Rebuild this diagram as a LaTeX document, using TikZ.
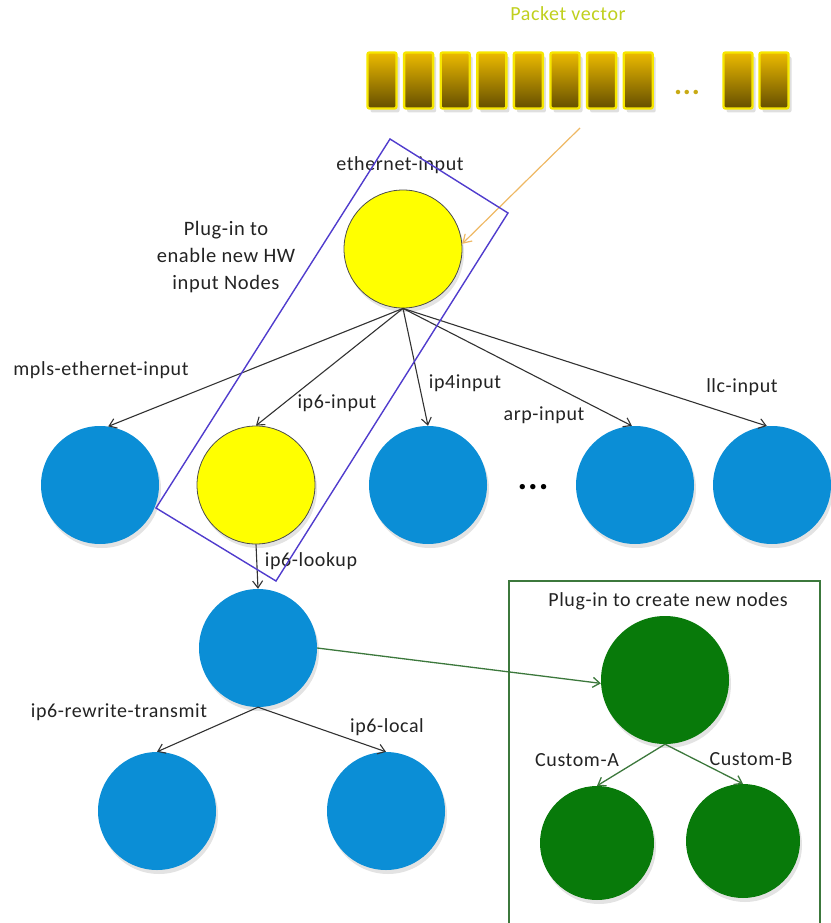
\documentclass[tikz,border=0pt]{standalone}
\usepackage{fontspec}
\setmainfont{Carlito}[LetterSpace=3]
\usetikzlibrary{arrows.meta,shadows}
\definecolor{nodeblue}{RGB}{11,142,214}
\definecolor{nodeyellow}{RGB}{255,255,0}
\definecolor{nodegreen}{RGB}{8,122,10}
\definecolor{plugblue}{RGB}{80,60,205}
\definecolor{boxgreen}{RGB}{60,120,60}
\definecolor{feedorange}{RGB}{238,184,100}
\definecolor{pvtext}{RGB}{192,208,30}
\definecolor{pktrim}{RGB}{246,230,0}
\definecolor{pktop}{RGB}{236,186,0}
\definecolor{pkbot}{RGB}{100,78,0}
\definecolor{pkdot}{RGB}{200,170,20}
\definecolor{edgegray}{RGB}{50,50,50}
\definecolor{labelgray}{RGB}{35,35,35}
\tikzset{
  gnode/.style={circle, inner sep=0pt, minimum size=118pt,
    drop shadow={opacity=0.22, shadow xshift=2pt, shadow yshift=-4pt}},
  bluenode/.style={gnode, fill=nodeblue},
  yellownode/.style={gnode, fill=nodeyellow, draw=black!70, line width=0.8pt},
  greennode/.style={gnode, fill=nodegreen},
  lbl/.style={text=labelgray, font=\fontsize{20}{22}\selectfont, inner sep=0pt},
  edge/.style={draw=edgegray, line width=1.1pt, -{Straight Barb[length=7pt,width=10pt]}},
  gedge/.style={draw=boxgreen, line width=1.3pt, -{Straight Barb[length=7pt,width=10pt]}},
  packet/.style={rectangle, rounded corners=2pt, minimum width=29pt, minimum height=56pt,
    inner sep=0pt, draw=pktrim, line width=2.4pt, top color=pktop, bottom color=pkbot,
    drop shadow={opacity=0.25, shadow xshift=3pt, shadow yshift=-4pt}},
}
\begin{document}
\begin{tikzpicture}[x=1pt,y=-1pt]
\useasboundingbox (0,0) rectangle (830,923);

% packet vector
\node[text=pvtext, font=\fontsize{20}{22}\selectfont, inner sep=0pt] (pvlabel) at (568,14) {Packet vector};
\foreach \i in {0,...,7} {
  \node[packet] (pkt\i) at ({382+36.6*\i},80.5) {};
}
\node[packet] (pkt8) at (738,80.5) {};
\node[packet] (pkt9) at (774,80.5) {};
\node[text=pkdot, font=\fontsize{30}{30}\selectfont\bfseries, inner sep=0pt] (pkdots) at (687,92) {...};

% graph nodes
\node[yellownode] (eth) at (403,249) {};
\node[lbl] (ethlbl) at (400,165) {ethernet-input};

\node[bluenode] (mpls) at (100,485) {};
\node[yellownode] (ip6) at (256,485) {};
\node[bluenode] (ip4) at (428,485) {};
\node[bluenode] (arp) at (635,485) {};
\node[bluenode] (llc) at (772,485) {};
\node[font=\fontsize{36}{36}\selectfont\bfseries, inner sep=0pt] (rowdots) at (533,487) {...};

\node[bluenode] (lookup) at (258,648) {};
\node[bluenode] (rewrite) at (157,811) {};
\node[bluenode] (local) at (386,811) {};

\node[greennode, minimum size=128pt] (custom) at (665,680) {};
\node[greennode, minimum size=114pt] (cusa) at (597,843) {};
\node[greennode, minimum size=114pt] (cusb) at (743,841) {};

% feed from the packet vector
\coordinate (pvfeed) at (580,128);
\draw[draw=feedorange, line width=1.2pt, -{Straight Barb[length=8pt,width=10pt]}] (pvfeed) -- (eth.5);

% edges
\draw[edge] (eth.south) -- (mpls.82);
\draw[edge] (eth.south) -- (ip6.north);
\draw[edge] (eth.south) -- (ip4.north);
\draw[edge] (eth.south) -- (arp.93);
\draw[edge] (eth.south) -- (llc.95);
\draw[edge] (ip6.south) -- (lookup.north);
\draw[edge] (lookup.south) -- (rewrite.north);
\draw[edge] (lookup.south) -- (local.north);
\draw[gedge] (lookup.east) -- (custom.183);
\draw[gedge] (custom.south) -- (cusa.north);
\draw[gedge] (custom.south) -- (cusb.north);

% edge labels
\node[lbl] (mplslbl) at (101,370) {mpls-ethernet-input};
\node[lbl] (ip6lbl) at (337,403) {ip6-input};
\node[lbl] (ip4lbl) at (465,383) {ip4input};
\node[lbl] (arplbl) at (544,415) {arp-input};
\node[lbl] (llclbl) at (742,387) {llc-input};
\node[lbl] (lookuplbl) at (311,561) {ip6-lookup};
\node[lbl] (rewritelbl) at (119,712) {ip6-rewrite-transmit};
\node[lbl] (locallbl) at (387,727) {ip6-local};
\node[lbl] (cusalbl) at (577,760) {Custom-A};
\node[lbl] (cusblbl) at (751,759) {Custom-B};

% HW input plug-in frame
\draw[draw=plugblue, line width=1.4pt] (390,139) -- (508,213) -- (276,581) -- (156,508) -- cycle;
\node[lbl, font=\fontsize{20.5}{27}\selectfont, align=center] (hwlbl) at (226,257) {Plug-in to\\enable new HW\\input Nodes};

% new-node plug-in frame
\draw[draw=boxgreen, line width=1.4pt] (509,923) -- (509,581) -- (820,581) -- (820,923);
\node[lbl] (newlbl) at (668,601) {Plug-in to create new nodes};
\end{tikzpicture}
\end{document}
